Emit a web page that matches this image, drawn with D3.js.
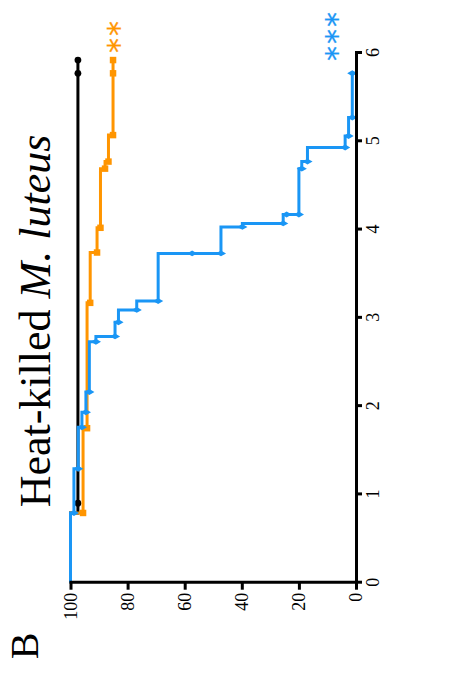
<!DOCTYPE html>
<html>
<head>
<meta charset="utf-8">
<script src="https://cdn.jsdelivr.net/npm/d3@7/dist/d3.min.js"></script>
<style>
  html, body { margin: 0; padding: 0; background: #fff; }
  svg { display: block; }
</style>
</head>
<body>
<svg id="chart" width="456" height="676"></svg>
<script>
// Survival (%) over days after infection, Kaplan–Meier style step curves.
const dayTicks = [0, 1, 2, 3, 4, 5, 6];
const survivalTicks = [0, 20, 40, 60, 80, 100];

// Control group (black)
const controlDays     = [0, 0.79, 5.92];
const controlSurvival = [100, 97.4, 97.4];
const controlMarkDays     = [0.9, 5.77, 5.92];
const controlMarkSurvival = [97.4, 97.4, 97.4];

// Orange group
const orangeDays     = [0, 0.79, 1.75, 3.17, 3.74, 4.02, 4.69, 4.77, 5.07, 5.92];
const orangeSurvival = [100, 95.6, 94.2, 93.1, 90.7, 89.5, 87.9, 86.7, 85.1, 85.1];
const orangeMarkDays     = [0.79, 1.75, 3.17, 3.74, 4.02, 4.69, 4.77, 5.07, 5.77, 5.92];
const orangeMarkSurvival = [95.6, 94.2, 93.1, 90.7, 89.5, 87.9, 86.7, 85.1, 85.1, 85.1];

// Blue group
const blueDays     = [0, 0.79, 1.29, 1.76, 1.93, 2.16, 2.73, 2.79, 2.95, 3.09, 3.19, 3.73, 4.03, 4.07, 4.17, 4.69, 4.77, 4.93, 5.06, 5.27, 5.77];
const blueSurvival = [100, 98.8, 97.3, 96.0, 94.6, 93.4, 91.1, 84.4, 83.2, 76.8, 69.3, 47.3, 39.8, 25.5, 20.0, 19.0, 17.0, 3.8, 2.6, 1.3, 1.3];
const blueMarkDays     = [0.79, 1.29, 1.76, 1.93, 2.16, 2.73, 2.79, 2.95, 3.09, 3.19, 3.73, 3.73, 4.03, 4.07, 4.17, 4.17, 4.69, 4.77, 4.93, 5.06, 5.27, 5.77];
const blueMarkSurvival = [98.8, 97.3, 96.0, 94.6, 93.4, 91.1, 84.4, 83.2, 76.8, 69.3, 57.4, 47.3, 39.8, 25.5, 24.3, 20.0, 19.0, 17.0, 3.8, 2.6, 1.3, 1.3];

const titleMain = "Heat-killed ";
const titleItalic = "M. luteus";
const panelLetter = "B";
const orangeStars = "**";
const blueStars = "***";

const COLORS = { control: "#000000", orange: "#FF9500", blue: "#1A96F5" };
const SERIF = "'Liberation Serif', 'Times New Roman', serif";

const svg = d3.select("#chart");

// The plot is laid out as an ordinary days-vs-survival chart, then turned
// a quarter turn counter-clockwise so that time runs upward.
const plotLen = 529.7;   // length of the day axis
const plotDepth = 285.5; // length of the survival axis
const t = d3.scaleLinear().domain([0, 6]).range([0, plotLen]);
const s = d3.scaleLinear().domain([0, 100]).range([plotDepth, 0]);

const plot = svg.append("g").attr("transform", "translate(70.5,582.7) rotate(-90)");

const zip = (a, b) => a.map((d, i) => [d, b[i]]);
const line = d3.line().x(d => t(d[0])).y(d => s(d[1])).curve(d3.curveStepAfter);

function drawSeries(days, surv, mDays, mSurv, color, symbolType, size) {
  plot.append("path")
    .attr("d", line(zip(days, surv)))
    .attr("fill", "none")
    .attr("stroke", color)
    .attr("stroke-width", 3)
    .attr("stroke-linejoin", "miter");
  plot.append("g").selectAll("path")
    .data(zip(mDays, mSurv))
    .join("path")
    .attr("transform", d => `translate(${t(d[0])},${s(d[1])})`)
    .attr("d", d3.symbol().type(symbolType).size(size))
    .attr("fill", color);
}

drawSeries(controlDays, controlSurvival, controlMarkDays, controlMarkSurvival, COLORS.control, d3.symbolCircle, 36);
drawSeries(orangeDays, orangeSurvival, orangeMarkDays, orangeMarkSurvival, COLORS.orange, d3.symbolSquare, 42);
drawSeries(blueDays, blueSurvival, blueMarkDays, blueMarkSurvival, COLORS.blue, d3.symbolDiamond, 30);

// Axes
const survAxis = plot.append("g")
  .call(d3.axisLeft(s).tickValues(survivalTicks).tickFormat(d3.format("d"))
    .tickSize(7).tickSizeOuter(0).tickPadding(3));
const dayAxis = plot.append("g")
  .attr("transform", `translate(0,${plotDepth})`)
  .call(d3.axisBottom(t).tickValues(dayTicks).tickFormat(d3.format("d"))
    .tickSize(6).tickSizeOuter(0).tickPadding(4));

[survAxis, dayAxis].forEach(ax => {
  ax.attr("font-family", null).attr("font-size", null);
  ax.select(".domain").attr("stroke", "#000").attr("stroke-width", 3).attr("stroke-linecap", "square");
  ax.selectAll(".tick line").attr("stroke", "#000").attr("stroke-width", 3);
  ax.selectAll(".tick text")
    .style("font-family", SERIF)
    .style("font-size", "18px")
    .attr("fill", "#000");
});

// Title, running upward along the left side
const title = svg.append("text")
  .attr("transform", "translate(50,321) rotate(-90)")
  .attr("text-anchor", "middle")
  .style("font-family", SERIF)
  .style("font-size", "44px");
title.append("tspan").text(titleMain);
title.append("tspan").style("font-style", "italic").text(titleItalic);

// Panel letter
svg.append("text")
  .attr("transform", "translate(38,646) rotate(-90)")
  .attr("text-anchor", "middle")
  .style("font-family", SERIF)
  .style("font-size", "40px")
  .text(panelLetter);

// Significance marks above the curve ends, centred on a given point
function stars(str, color, cx, cy) {
  const g = svg.append("g");
  g.append("text")
    .attr("transform", "rotate(-90)")
    .attr("text-anchor", "middle")
    .style("font-family", "'DejaVu Sans', sans-serif")
    .style("font-size", "30px")
    .style("letter-spacing", "2px")
    .style("fill", color)
    .style("stroke", color)
    .style("stroke-width", "0.3px")
    .text(str);
  const bb = g.node().getBBox();
  g.attr("transform", `translate(${cx - (bb.x + bb.width / 2)},${cy - (bb.y + bb.height / 2)})`);
}
stars(orangeStars, COLORS.orange, 118.5, 36);
stars(blueStars, COLORS.blue, 336, 35.5);
</script>
</body>
</html>
